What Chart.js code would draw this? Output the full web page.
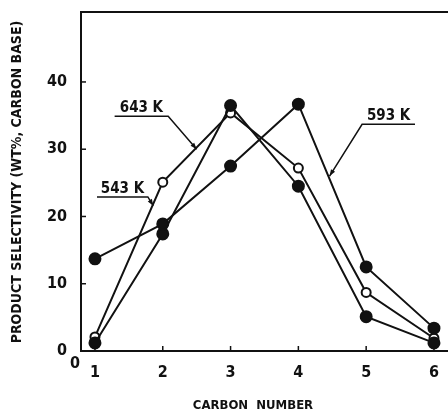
<!DOCTYPE html>
<html>
<head>
<meta charset="utf-8">
<script src="https://cdn.jsdelivr.net/npm/chart.js@4.4.1/dist/chart.umd.min.js"></script>
<style>
  html, body { margin: 0; padding: 0; background: #fff; }
  #wrap { width: 448px; height: 413px; position: relative; }
</style>
</head>
<body>
<div id="wrap"><canvas id="selChart"></canvas></div>
<script>
/* global Chart */

// Nombre de carbones
const carbonNumbers = [1, 2, 3, 4, 5, 6];
const xTicks = [1, 2, 3, 4, 5, 6];
const yTicks = [0, 10, 20, 30, 40];

// Sélectivité (% massique, base carbone)
const sel593 = [13.7, 18.9, 27.5, 36.7, 12.5, 3.4];
const sel643 = [2.1, 25.1, 35.4, 27.2, 8.7, 1.9];
const sel543 = [1.2, 17.4, 36.5, 24.5, 5.1, 1.2];

const labelNames = ['643 K', '543 K', '593 K'];

const INK = '#111';
const FONT = '"DejaVu Sans Condensed", "Liberation Sans Narrow", sans-serif';

function toPoints(ys) {
  return carbonNumbers.map((x, i) => ({ x: x, y: ys[i] }));
}

// Annotations (in data units): start of underline, bend, tip of leader
const leaders = [
  { text: labelNames[0], start: [1.29, 34.9], bend: [2.08, 34.9], tip: [2.5, 30.0] },
  { text: labelNames[1], start: [1.03, 22.9], bend: [1.78, 22.9], tip: [1.86, 21.6] },
  { text: labelNames[2], start: [5.72, 33.7], bend: [4.94, 33.7], tip: [4.46, 26.0] }
];

const framePlugin = {
  id: 'frame',
  afterDraw(chart) {
    const ctx = chart.ctx;
    const a = chart.chartArea;
    const xs = chart.scales.x;
    const ys = chart.scales.y;
    ctx.save();
    ctx.strokeStyle = INK;
    ctx.fillStyle = INK;
    ctx.lineWidth = 2;
    // top line
    ctx.beginPath();
    ctx.moveTo(a.left, a.top);
    ctx.lineTo(a.right, a.top);
    ctx.stroke();
    // inward ticks
    ctx.lineWidth = 1.5;
    xTicks.forEach(v => {
      const px = xs.getPixelForValue(v);
      ctx.beginPath();
      ctx.moveTo(px, a.bottom);
      ctx.lineTo(px, a.bottom - 5);
      ctx.stroke();
    });
    yTicks.slice(1).forEach(v => {
      const py = ys.getPixelForValue(v);
      ctx.beginPath();
      ctx.moveTo(a.left, py);
      ctx.lineTo(a.left + 5, py);
      ctx.stroke();
    });
    // extra "0" under the corner
    ctx.font = 'bold 16px ' + FONT;
    ctx.textAlign = 'center';
    ctx.textBaseline = 'middle';
    ctx.fillText('0', a.left - 6, a.bottom + 13);

    // axis titles
    ctx.font = 'bold 13px ' + FONT;
    ctx.fillText('CARBON  NUMBER', 253, 406);
    ctx.save();
    ctx.translate(17, 182);
    ctx.rotate(-Math.PI / 2);
    ctx.font = 'bold 14px ' + FONT;
    ctx.fillText('PRODUCT SELECTIVITY (WT%, CARBON BASE)', 0, 0);
    ctx.restore();

    // labelled leaders
    ctx.lineWidth = 1.5;
    ctx.font = 'bold 15px ' + FONT;
    ctx.textBaseline = 'alphabetic';
    leaders.forEach(l => {
      const sx = xs.getPixelForValue(l.start[0]), sy = ys.getPixelForValue(l.start[1]);
      const bx = xs.getPixelForValue(l.bend[0]), by = ys.getPixelForValue(l.bend[1]);
      const tx = xs.getPixelForValue(l.tip[0]), ty = ys.getPixelForValue(l.tip[1]);
      ctx.beginPath();
      ctx.moveTo(sx, sy);
      ctx.lineTo(bx, by);
      ctx.lineTo(tx, ty);
      ctx.stroke();
      // arrow head
      const ang = Math.atan2(ty - by, tx - bx);
      ctx.beginPath();
      ctx.moveTo(tx, ty);
      ctx.lineTo(tx - 7 * Math.cos(ang - 0.35), ty - 7 * Math.sin(ang - 0.35));
      ctx.lineTo(tx - 7 * Math.cos(ang + 0.35), ty - 7 * Math.sin(ang + 0.35));
      ctx.closePath();
      ctx.fill();
      const left = Math.min(sx, bx);
      const right = Math.max(sx, bx);
      ctx.textAlign = 'center';
      ctx.fillText(l.text, (left + right) / 2, sy - 4);
    });
    ctx.restore();
  }
};

function lineSet(label, data, filled) {
  return {
    label: label,
    data: toPoints(data),
    borderColor: INK,
    borderWidth: 2,
    pointRadius: filled ? 5.5 : 4.5,
    pointBorderWidth: 2,
    pointBackgroundColor: filled ? INK : '#fff',
    pointBorderColor: INK,
    tension: 0,
    fill: false,
    clip: false
  };
}

new Chart(document.getElementById('selChart'), {
  type: 'line',
  data: {
    datasets: [
      lineSet('593 K', sel593, true),
      lineSet('543 K', sel543, true),
      lineSet('643 K', sel643, false)
    ]
  },
  options: {
    responsive: true,
    maintainAspectRatio: false,
    animation: false,
    layout: { autoPadding: false, padding: { top: 12, right: 0, left: 0, bottom: 0 } },
    plugins: {
      legend: { display: false },
      tooltip: { enabled: false }
    },
    scales: {
      x: {
        type: 'linear',
        min: 0.794,
        max: 6.207,
        afterBuildTicks(scale) { scale.ticks = xTicks.map(v => ({ value: v })); },
        afterFit(scale) {
          scale.height = 62;
          scale.paddingLeft = 0;
          scale.paddingRight = 0;
        },
        grid: { display: false },
        border: { display: true, color: INK, width: 2 },
        ticks: {
          color: INK,
          padding: 4,
          font: { family: FONT, size: 16, weight: 'bold' }
        }
      },
      y: {
        min: 0,
        max: 50.4,
        afterBuildTicks(scale) { scale.ticks = yTicks.map(v => ({ value: v })); },
        afterFit(scale) {
          scale.width = 81;
          scale.paddingTop = 0;
          scale.paddingBottom = 0;
        },
        grid: { display: false },
        border: { display: true, color: INK, width: 2 },
        ticks: {
          color: INK,
          padding: 6,
          font: { family: FONT, size: 16, weight: 'bold' }
        }
      }
    }
  },
  plugins: [framePlugin]
});
</script>
</body>
</html>
